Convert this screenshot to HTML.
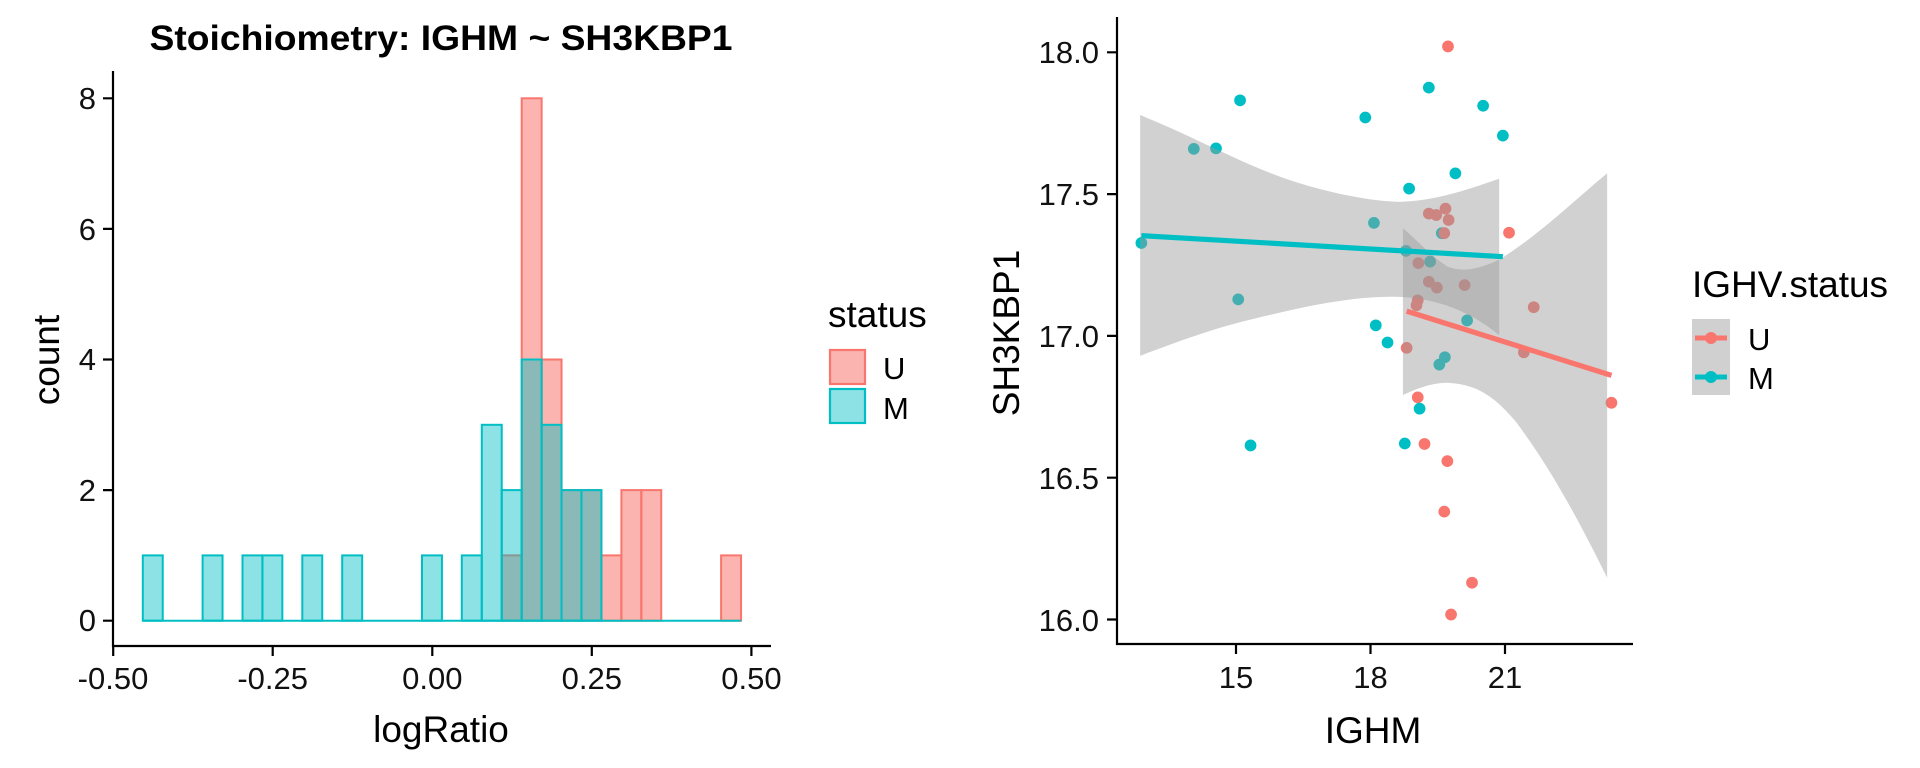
<!DOCTYPE html>
<html><head><meta charset="utf-8"><style>
html,body{margin:0;padding:0;background:#fff;}
svg{display:block;font-family:"Liberation Sans",Arial,sans-serif;}
</style></head><body>
<svg width="1920" height="768" viewBox="0 0 1920 768" xmlns="http://www.w3.org/2000/svg">
<rect width="1920" height="768" fill="#fff"/>
<!-- LEFT PANEL -->
<text x="441" y="50" font-size="35" font-weight="bold" text-anchor="middle" textLength="583" lengthAdjust="spacingAndGlyphs">Stoichiometry: IGHM ~ SH3KBP1</text>
<g stroke-width="2">
<g fill="#F8766D" fill-opacity="0.55" stroke="#F8766D">
<rect x="501.7" y="555.4" width="19.94" height="65.3"/>
<rect x="521.7" y="98.3" width="19.94" height="522.4"/>
<rect x="541.6" y="359.5" width="19.94" height="261.2"/>
<rect x="561.5" y="490.1" width="19.94" height="130.6"/>
<rect x="581.5" y="490.1" width="19.94" height="130.6"/>
<rect x="601.4" y="555.4" width="19.94" height="65.3"/>
<rect x="621.4" y="490.1" width="19.94" height="130.6"/>
<rect x="641.3" y="490.1" width="19.94" height="130.6"/>
<rect x="721.1" y="555.4" width="19.94" height="65.3"/>
</g>
<line x1="142.8" y1="620.7" x2="741.1" y2="620.7" stroke="#00BFC4"/>
<g fill="#00BFC4" fill-opacity="0.45" stroke="#00BFC4">
<rect x="142.8" y="555.4" width="19.94" height="65.3"/>
<rect x="202.6" y="555.4" width="19.94" height="65.3"/>
<rect x="242.5" y="555.4" width="19.94" height="65.3"/>
<rect x="262.4" y="555.4" width="19.94" height="65.3"/>
<rect x="302.3" y="555.4" width="19.94" height="65.3"/>
<rect x="342.2" y="555.4" width="19.94" height="65.3"/>
<rect x="422.0" y="555.4" width="19.94" height="65.3"/>
<rect x="461.8" y="555.4" width="19.94" height="65.3"/>
<rect x="481.8" y="424.8" width="19.94" height="195.9"/>
<rect x="501.7" y="490.1" width="19.94" height="130.6"/>
<rect x="521.7" y="359.5" width="19.94" height="261.2"/>
<rect x="541.6" y="424.8" width="19.94" height="195.9"/>
<rect x="561.5" y="490.1" width="19.94" height="130.6"/>
<rect x="581.5" y="490.1" width="19.94" height="130.6"/>
</g>
</g>
<g stroke="#000" stroke-width="2.2" fill="none">
<path d="M113 71V646H771"/>
<path d="M103 620.7H113M103 490.1H113M103 359.5H113M103 228.9H113M103 98.3H113"/>
<path d="M113.2 646V656M272.7 646V656M432.3 646V656M591.8 646V656M751.4 646V656"/>
</g>
<g font-size="31" fill="#111" text-anchor="end">
<text x="96" y="631">0</text><text x="96" y="501">2</text><text x="96" y="370">4</text><text x="96" y="240">6</text><text x="96" y="109">8</text>
</g>
<g font-size="31" fill="#111" text-anchor="middle">
<text x="113" y="689">-0.50</text><text x="272.7" y="689">-0.25</text><text x="432.3" y="689">0.00</text><text x="591.8" y="689">0.25</text><text x="751.4" y="689">0.50</text>
</g>
<text x="441" y="742" font-size="37" text-anchor="middle">logRatio</text>
<text transform="translate(59,360) rotate(-90)" font-size="37" text-anchor="middle">count</text>
<text x="828" y="327" font-size="37">status</text>
<rect x="830" y="350" width="35" height="34" fill="#F8766D" fill-opacity="0.55" stroke="#F8766D" stroke-width="2.2"/>
<rect x="830" y="389" width="35" height="34" fill="#00BFC4" fill-opacity="0.45" stroke="#00BFC4" stroke-width="2.2"/>
<text x="883" y="379" font-size="31">U</text>
<text x="883" y="419" font-size="31">M</text>

<!-- RIGHT PANEL -->
<g transform="matrix(0.6169,0,0,0.4902,960,-0.64)">
<g fill="#F8766D">
<ellipse cx="791" cy="96" rx="9.5" ry="12"/><ellipse cx="890" cy="476" rx="9.5" ry="12"/><ellipse cx="930" cy="628" rx="9.5" ry="12"/><ellipse cx="914" cy="720" rx="9.5" ry="12"/><ellipse cx="1056" cy="823" rx="9.5" ry="12"/><ellipse cx="724" cy="711" rx="9.5" ry="12"/><ellipse cx="742" cy="812" rx="9.5" ry="12"/><ellipse cx="753" cy="907" rx="9.5" ry="12"/><ellipse cx="790" cy="942" rx="9.5" ry="12"/><ellipse cx="785" cy="1045" rx="9.5" ry="12"/><ellipse cx="830" cy="1190" rx="9.5" ry="12"/><ellipse cx="796" cy="1255" rx="9.5" ry="12"/>
</g>
<g fill="#00BFC4">
<ellipse cx="760" cy="180" rx="9.5" ry="12"/><ellipse cx="848" cy="217" rx="9.5" ry="12"/><ellipse cx="880" cy="278" rx="9.5" ry="12"/><ellipse cx="454" cy="206" rx="9.5" ry="12"/><ellipse cx="657" cy="241" rx="9.5" ry="12"/><ellipse cx="379" cy="305" rx="9.5" ry="12"/><ellipse cx="415" cy="304" rx="9.5" ry="12"/><ellipse cx="803" cy="355" rx="9.5" ry="12"/><ellipse cx="728" cy="386" rx="9.5" ry="12"/><ellipse cx="671" cy="456" rx="9.5" ry="12"/><ellipse cx="294" cy="497" rx="9.5" ry="12"/><ellipse cx="723" cy="513" rx="9.5" ry="12"/><ellipse cx="762" cy="535" rx="9.5" ry="12"/><ellipse cx="781" cy="477" rx="9.5" ry="12"/><ellipse cx="451" cy="612" rx="9.5" ry="12"/><ellipse cx="674" cy="665" rx="9.5" ry="12"/><ellipse cx="693" cy="700" rx="9.5" ry="12"/><ellipse cx="822" cy="655" rx="9.5" ry="12"/><ellipse cx="786" cy="730" rx="9.5" ry="12"/><ellipse cx="777" cy="745" rx="9.5" ry="12"/><ellipse cx="745" cy="835" rx="9.5" ry="12"/><ellipse cx="721" cy="906" rx="9.5" ry="12"/><ellipse cx="471" cy="910" rx="9.5" ry="12"/>
</g>
<g fill="#F8766D">
<ellipse cx="760" cy="437" rx="9.5" ry="12"/><ellipse cx="772" cy="440" rx="9.5" ry="12"/><ellipse cx="787" cy="427" rx="9.5" ry="12"/><ellipse cx="792" cy="450" rx="9.5" ry="12"/><ellipse cx="785" cy="477" rx="9.5" ry="12"/><ellipse cx="743" cy="538" rx="9.5" ry="12"/><ellipse cx="760" cy="576" rx="9.5" ry="12"/><ellipse cx="773" cy="588" rx="9.5" ry="12"/><ellipse cx="818" cy="583" rx="9.5" ry="12"/><ellipse cx="742" cy="614" rx="9.5" ry="12"/><ellipse cx="740" cy="624" rx="9.5" ry="12"/>
</g>
<path d="M718 467 C740 490 760 520 790 545 C820 560 850 545 874 531 C940 480 1000 405 1049 355 L1049 1180 C1010 1080 960 960 900 860 C860 800 830 785 790 782 C760 783 740 795 718 807 Z" fill="#999" fill-opacity="0.45"/>
<line x1="724" y1="636" x2="1056" y2="767" stroke="#F8766D" stroke-width="5.2" vector-effect="non-scaling-stroke"/>
<path d="M292 236 C380 280 470 345 550 375 C620 402 680 413 713 413 C770 412 830 385 874 366 L874 685 C840 650 790 612 713 607 C640 604 560 625 450 660 C390 680 340 705 292 727 Z" fill="#999" fill-opacity="0.45"/>
<line x1="294" y1="482" x2="880" y2="525" stroke="#00BFC4" stroke-width="5.2" vector-effect="non-scaling-stroke"/>
</g>
<g stroke="#000" stroke-width="2.2" fill="none">
<path d="M1117 17V644H1633"/>
<path d="M1107 52.3H1117M1107 194.1H1117M1107 335.9H1117M1107 477.7H1117M1107 619.5H1117"/>
<path d="M1236 644V654M1370.5 644V654M1505 644V654"/>
</g>
<g font-size="31" fill="#111" text-anchor="end">
<text x="1099" y="63">18.0</text><text x="1099" y="205">17.5</text><text x="1099" y="347">17.0</text><text x="1099" y="489">16.5</text><text x="1099" y="631">16.0</text>
</g>
<g font-size="31" fill="#111" text-anchor="middle">
<text x="1236" y="688">15</text><text x="1370.5" y="688">18</text><text x="1505" y="688">21</text>
</g>
<text x="1373" y="743" font-size="37" text-anchor="middle">IGHM</text>
<text transform="translate(1019,333) rotate(-90)" font-size="37" text-anchor="middle">SH3KBP1</text>
<text x="1692" y="297" font-size="37">IGHV.status</text>
<rect x="1692" y="319" width="38" height="76" fill="#d0d0d0"/>
<line x1="1695" y1="338" x2="1727" y2="338" stroke="#F8766D" stroke-width="5"/>
<circle cx="1711" cy="338" r="6" fill="#F8766D"/>
<line x1="1695" y1="377" x2="1727" y2="377" stroke="#00BFC4" stroke-width="5"/>
<circle cx="1711" cy="377" r="6" fill="#00BFC4"/>
<text x="1748" y="350" font-size="31">U</text>
<text x="1748" y="389" font-size="31">M</text>
</svg>
</body></html>
